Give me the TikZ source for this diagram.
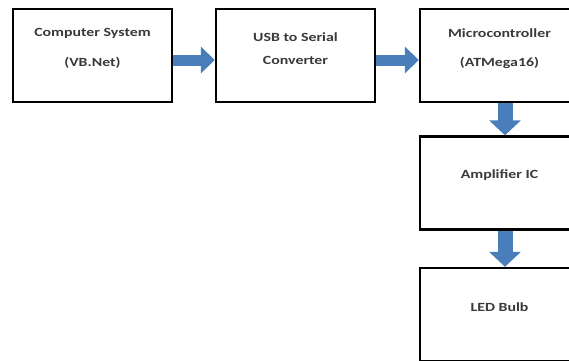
\documentclass[tikz,border=0pt]{standalone}
\usepackage{fontspec}
\setmainfont[FakeStretch=1.27]{Carlito}
\usetikzlibrary{arrows.meta}
\definecolor{arrowblue}{HTML}{4A7EBB}
\definecolor{txtgray}{HTML}{3A3A3A}
\tikzset{
  box/.style={draw=black, line width=2.4pt, fill=white, minimum width=159pt, minimum height=93pt, inner sep=0pt},
  txt/.style={font=\fontsize{12.5}{14}\selectfont\bfseries, text=txtgray, inner sep=0pt},
  harrow/.style={draw=arrowblue, line width=11pt, -{Triangle[length=14pt,width=26pt]}},
  varrow/.style={draw=arrowblue, line width=15pt, -{Triangle[length=15pt,width=31pt]}}
}
\begin{document}
\begin{tikzpicture}[x=1pt,y=-1pt]
\useasboundingbox (0,0) rectangle (569,360);
\clip (0,0) rectangle (569,360);
\node[box] (b1) at (92.5,55.5) {};
\node[box] (b2) at (295.5,55.5) {};
\node[box] (b3) at (499.5,55.5) {};
\node[box] (b4) at (499.5,183) {};
\node[box] (b5) at (499.5,314.5) {};
\node[txt] (t1a) at (92.5,33) {Computer System};
\node[txt] (t1b) at (92.5,63) {(VB.Net)};
\node[txt] (t2a) at (295.5,37) {USB to Serial};
\node[txt] (t2b) at (295.5,60) {Converter};
\node[txt] (t3a) at (499.5,33) {Microcontroller};
\node[txt] (t3b) at (499.5,63) {(ATMega16)};
\node[txt] (t4) at (499.5,175) {Amplifier IC};
\node[txt] (t5) at (499.5,307) {LED Bulb};
\draw[harrow] ([yshift=-4.5pt]b1.east) -- ([yshift=-4.5pt]b2.west);
\draw[harrow] ([yshift=-4.5pt]b2.east) -- ([yshift=-4.5pt]b3.west);
\draw[varrow] ([xshift=5.5pt]b3.south) -- ([xshift=5.5pt]b4.north);
\draw[varrow] ([xshift=5.5pt]b4.south) -- ([xshift=5.5pt]b5.north);
\end{tikzpicture}
\end{document}
